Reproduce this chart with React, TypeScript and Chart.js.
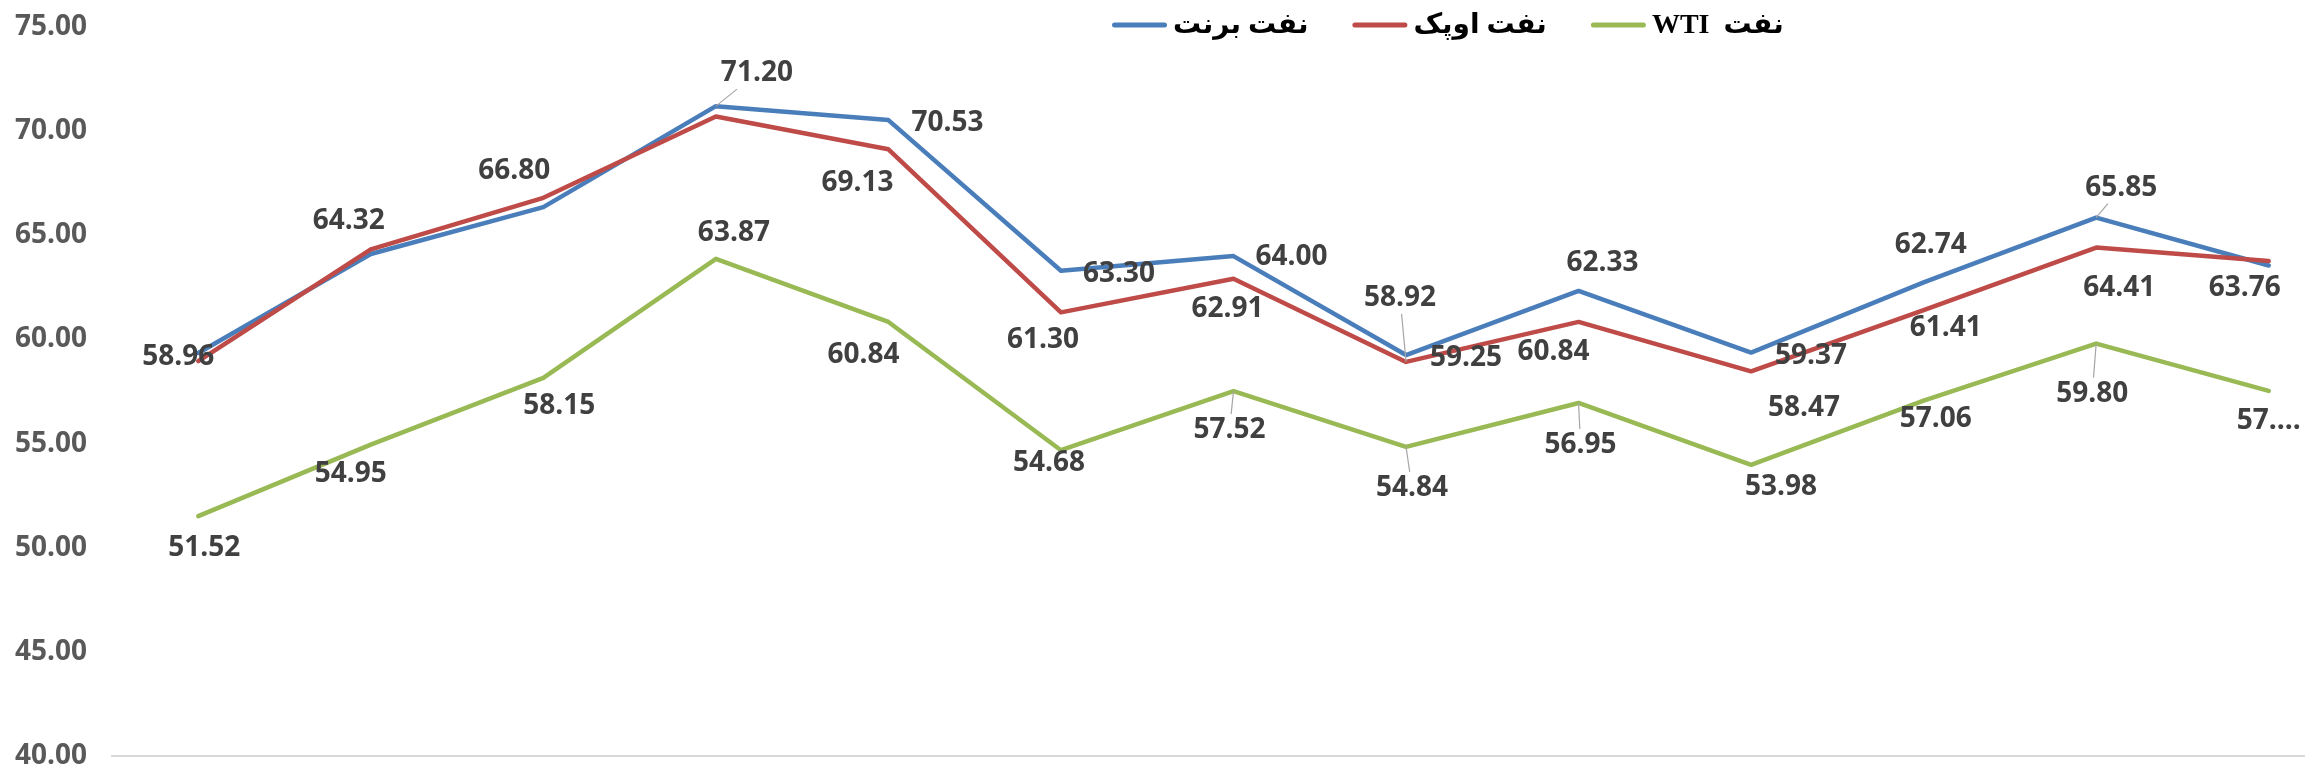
import React, { useEffect, useRef } from "react";
import { Chart, registerables } from "chart.js";

Chart.register(...registerables);

// ---------- data ----------
const categories = [
  "دی ۹۷", "بهمن ۹۷", "اسفند ۹۷", "فروردین ۹۸", "اردیبهشت ۹۸", "خرداد ۹۸", "تیر ۹۸",
  "مرداد ۹۸", "شهریور ۹۸", "مهر ۹۸", "آبان ۹۸", "آذر ۹۸", "دی ۹۸",
];
const seriesNames = ["نفت برنت", "نفت اوپک", "نفت  WTI"];
const brent = [59.35, 64.1, 66.35, 71.2, 70.53, 63.3, 64.0, 59.25, 62.33, 59.37, 62.74, 65.85, 63.55];
const opec = [58.96, 64.32, 66.8, 70.7, 69.13, 61.3, 62.91, 58.92, 60.84, 58.47, 61.41, 64.41, 63.76];
const wti = [51.52, 54.95, 58.15, 63.87, 60.84, 54.68, 57.52, 54.84, 56.95, 53.98, 57.06, 59.8, 57.53];
const wtiLabelText = [null, null, null, null, null, null, null, null, null, null, null, null, "57...."];
const yMin = 40;
const yMax = 75;
const yStep = 5;

// ---------- label placement (pixel offsets from the point) ----------
type Off = [number, number] | null;
const brentLabelOffsets: Off[] = [
  null, null, null, [41, -33], [59, 3], [58, 3], [58, 1], [60, 3], [24, -28], [60, 3], [7, -37], [25, -30], null,
];
const brentLeaders = [0, 0, 0, 1, 0, 0, 0, 0, 0, 0, 0, 1, 0];
const opecLabelOffsets: Off[] = [
  [-20, -4], [-22, -28], [-29, -27], null, [-31, 34], [-18, 28], [-6, 30], [-6, -64], [-25, 30], [53, 37], [22, 18], [23, 40], [-24, 27],
];
const opecLeaders = [0, 0, 0, 0, 0, 0, 0, 1, 0, 0, 0, 0, 0];
const wtiLabelOffsets: Off[] = [
  [6, 32], [-20, 29], [16, 28], [18, -26], [-25, 33], [-12, 13], [-4, 39], [6, 41], [2, 42], [30, 22], [12, 18], [-4, 50], [0, 30],
];
const wtiLeaders = [0, 0, 0, 0, 0, 0, 1, 1, 1, 0, 0, 1, 0];

const colors = ["#4A7EBB", "#BE4B48", "#98B954"];
const LABEL_FONT = "bold 28px 'Open Sans', 'Liberation Sans', sans-serif";
const LEGEND_FONT = "bold 28px 'Liberation Serif', 'DejaVu Sans', serif";

const labelCfg = [
  { offsets: brentLabelOffsets, leaders: brentLeaders, texts: [] as (string | null)[] },
  { offsets: opecLabelOffsets, leaders: opecLeaders, texts: [] as (string | null)[] },
  { offsets: wtiLabelOffsets, leaders: wtiLeaders, texts: wtiLabelText },
];

const pointLabelPlugin = {
  id: "pointLabels",
  afterDatasetsDraw(chart: any) {
    const ctx: CanvasRenderingContext2D = chart.ctx;
    ctx.save();
    ctx.font = LABEL_FONT;
    ctx.textAlign = "center";
    ctx.textBaseline = "middle";
    chart.data.datasets.forEach((ds: any, di: number) => {
      const meta = chart.getDatasetMeta(di);
      const cfg = labelCfg[di];
      meta.data.forEach((el: any, j: number) => {
        const off = cfg.offsets[j];
        if (!off) return;
        const text = cfg.texts[j] ?? Number(ds.data[j]).toFixed(2);
        const lx = el.x + off[0];
        const ly = el.y + off[1];
        if (cfg.leaders[j]) {
          const w = ctx.measureText(text).width / 2 + 6;
          const h = 12 + 4;
          const dx = lx - el.x;
          const dy = ly - el.y;
          const tx = dx !== 0 ? w / Math.abs(dx) : Infinity;
          const ty = dy !== 0 ? h / Math.abs(dy) : Infinity;
          const t = Math.min(tx, ty, 1);
          ctx.strokeStyle = "#A6A6A6";
          ctx.lineWidth = 1.2;
          ctx.beginPath();
          ctx.moveTo(el.x, el.y);
          ctx.lineTo(lx - dx * t, ly - dy * t);
          ctx.stroke();
        }
        ctx.fillStyle = "#404040";
        ctx.fillText(text, lx, ly);
      });
    });
    ctx.restore();
  },
};

const legendPlugin = {
  id: "customLegend",
  afterDraw(chart: any) {
    const ctx: CanvasRenderingContext2D = chart.ctx;
    ctx.save();
    ctx.font = LEGEND_FONT;
    ctx.textBaseline = "middle";
    const y = 25;
    let x = 1112;
    chart.data.datasets.forEach((ds: any) => {
      ctx.strokeStyle = ds.borderColor;
      ctx.lineWidth = 5;
      ctx.lineCap = "round";
      ctx.beginPath();
      ctx.moveTo(x + 2.5, y);
      ctx.lineTo(x + 52.5, y);
      ctx.stroke();
      x += 55 + 6;
      (ctx as any).direction = "rtl";
      ctx.textAlign = "left";
      ctx.fillStyle = "#000000";
      ctx.fillText(ds.label, x, y + 1);
      const w = ctx.measureText(ds.label).width;
      x += w + 44;
    });
    ctx.restore();
  },
};

export default function App() {
  const ref = useRef<HTMLCanvasElement>(null);
  useEffect(() => {
    if (!ref.current) return;
    const chart = new Chart(ref.current, {
      type: "line",
      data: {
        labels: categories,
        datasets: [
          { label: seriesNames[0], data: brent, borderColor: colors[0], backgroundColor: colors[0], order: 2 },
          { label: seriesNames[1], data: opec, borderColor: colors[1], backgroundColor: colors[1], order: 1 },
          { label: seriesNames[2], data: wti, borderColor: colors[2], backgroundColor: colors[2], order: 3 },
        ],
      },
      options: {
        animation: false,
        responsive: false,
        devicePixelRatio: 1,
        layout: { padding: { top: 27, bottom: 13, left: 0, right: 0 } },
        elements: {
          point: { radius: 0, hoverRadius: 0 },
          line: { tension: 0, borderWidth: 4.5, borderCapStyle: "round", borderJoinStyle: "round" },
        },
        plugins: { legend: { display: false }, tooltip: { enabled: false } },
        scales: {
          x: {
            type: "category",
            offset: true,
            grid: { display: false, drawTicks: false },
            ticks: { display: false },
            border: { display: true, color: "#D9D9D9", width: 2 },
            afterFit: (s: any) => {
              s.height = 0;
              s.paddingLeft = 0;
              s.paddingRight = 0;
            },
          },
          y: {
            min: yMin,
            max: yMax,
            grid: { display: false, drawTicks: false },
            border: { display: false },
            ticks: {
              stepSize: yStep,
              padding: 25,
              color: "#595959",
              font: { family: "'Open Sans', 'Liberation Sans', sans-serif", size: 28, weight: "bold" },
              callback: (v: any) => Number(v).toFixed(2),
            },
            afterFit: (s: any) => {
              s.width = 112;
              s.paddingTop = 0;
              s.paddingBottom = 0;
            },
          },
        },
      } as any,
      plugins: [pointLabelPlugin, legendPlugin],
    });
    return () => chart.destroy();
  }, []);

  return (
    <div
      style={{
        position: "fixed",
        left: 0,
        top: 0,
        width: 2305,
        height: 769,
        overflow: "hidden",
        background: "#ffffff",
      }}
    >
      <canvas ref={ref} width={2355} height={769} style={{ display: "block" }} />
    </div>
  );
}
